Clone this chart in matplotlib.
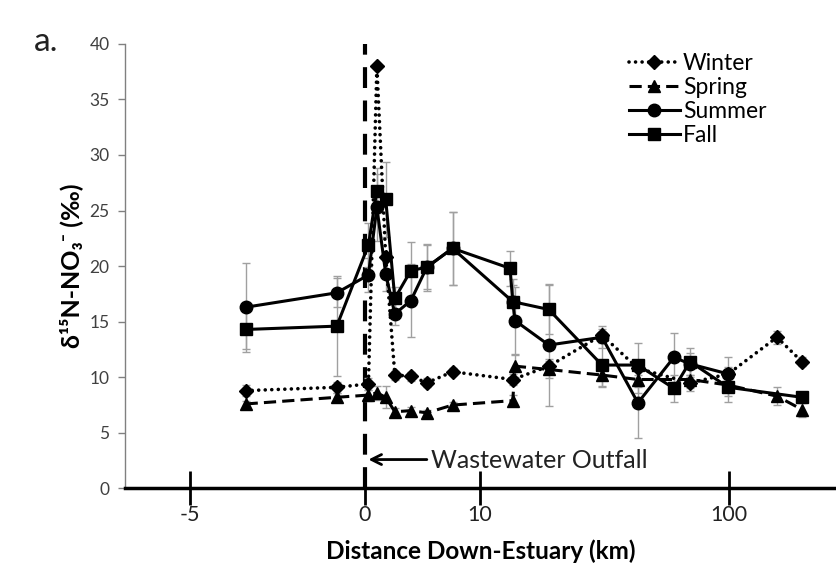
import numpy as np
import matplotlib
matplotlib.use("Agg")
import matplotlib.pyplot as plt

plt.rcParams['font.family'] = ['Lato', 'DejaVu Sans']

# distance down-estuary (km) and d15N-NO3 values
winter_x = [-3.4, -0.8, 0.01, 0.11, 0.33, 0.68, 1.6, 2.9, 5.8, 16.5, 25.5, 42.4, 56.2, 79.7, 99.5, 128, 144]
winter_y = [8.8, 9.1, 9.4, 38.0, 20.8, 10.2, 10.1, 9.5, 10.5, 9.8, 11.0, 13.8, 10.8, 9.5, 10.3, 13.6, 11.4]
winter_err = [0.5, 0.5, 0.5, 0, 0, 0.4, 0.4, 0.4, 0.3, 0.5, 0.6, 0.5, 0.6, 0.5, 0.6, 0.6, 0.4]

spring_x = [-3.4, -0.8, 0.01, 0.11, 0.33, 0.68, 1.6, 2.9, 5.8, 16.5, 17.0, 25.5, 42.4, 56.2, 79.7, 99.5, 128, 144]
spring_y = [7.6, 8.2, 8.4, 8.6, 8.2, 6.9, 7.0, 6.8, 7.5, 7.9, 11.0, 10.7, 10.2, 9.8, 9.8, 9.3, 8.3, 7.1]
spring_err = [0.3, 0.4, 0.5, 0.6, 1.0, 0.3, 0.3, 0.3, 0.3, 0.5, 1.0, 0.8, 1.0, 1.2, 1.0, 1.0, 0.8, 0.7]

summer_x = [-3.4, -0.8, 0.01, 0.11, 0.33, 0.68, 1.6, 2.9, 5.8, 16.5, 17.0, 25.5, 42.4, 56.2, 72, 79.7, 99.5]
summer_y = [16.3, 17.6, 19.2, 25.3, 19.3, 15.7, 16.9, 19.9, 21.6, 16.8, 15.1, 12.9, 13.6, 7.7, 11.8, 11.2, 10.3]
summer_err = [4.0, 1.3, 1.5, 3.0, 1.5, 1.0, 3.3, 2.0, 3.3, 1.5, 3.0, 5.5, 1.0, 3.2, 2.2, 1.0, 1.5]

fall_x = [-3.4, -0.8, 0.01, 0.11, 0.33, 0.68, 1.6, 2.9, 5.8, 15.9, 16.5, 25.5, 42.4, 56.2, 72, 79.7, 99.5, 144]
fall_y = [14.3, 14.6, 21.9, 26.8, 26.0, 17.1, 19.6, 19.9, 21.6, 19.8, 16.8, 16.1, 11.1, 11.1, 9.0, 11.4, 9.1, 8.2]
fall_err = [1.8, 4.5, 2.0, 2.0, 3.4, 1.0, 2.6, 2.1, 3.3, 1.6, 2.0, 2.2, 2.0, 2.0, 1.2, 1.2, 1.3, 0.5]

xticks = [-5, 0, 10, 100]
yticks = [0, 5, 10, 15, 20, 25, 30, 35, 40]


# linear upstream of the outfall, square-root stretched downstream
def fwd(x):
    x = np.asarray(x, dtype=float)
    return np.where(x >= 0, np.sqrt(np.abs(x)), 0.962 * x)


def inv(u):
    u = np.asarray(u, dtype=float)
    return np.where(u >= 0, u ** 2, u / 0.962)


fig = plt.figure(figsize=(8.37, 5.76), dpi=100)
ax = fig.add_axes([0.149, 0.152, 0.851, 0.772])
ax.set_xscale('function', functions=(fwd, inv))
ax.set_xlim(-6.85, 168)
ax.set_ylim(0, 40)

series = [
    ("Winter", winter_x, winter_y, winter_err, 'D', (0, (0.01, 1.8)), 7),
    ("Spring", spring_x, spring_y, spring_err, '^', (0, (4, 2)), 8),
    ("Summer", summer_x, summer_y, summer_err, 'o', '-', 9),
    ("Fall", fall_x, fall_y, fall_err, 's', '-', 8.5),
]

for name, x, y, e, m, ls, ms in series:
    ax.errorbar(x, y, yerr=e, fmt='none', ecolor='#a0a0a0', elinewidth=1,
                capsize=3, capthick=1, zorder=2)
for name, x, y, e, m, ls, ms in series:
    ax.plot(x, y, linestyle=ls, marker=m, color='black',
            lw=2.6 if name == "Winter" else 2.2,
            markersize=ms, label=name, zorder=3,
            dash_capstyle='round' if name == "Winter" else 'butt')

ax.axvline(0, color='black', lw=3, linestyle=(0, (5, 3)), zorder=1)

ax.annotate("", xy=(0.01, 2.6), xytext=(2.9, 2.6),
            arrowprops=dict(arrowstyle='->', color='black', lw=2,
                            mutation_scale=18, shrinkA=0, shrinkB=0))
ax.text(3.3, 2.5, "Wastewater Outfall", fontsize=18, color='#222222',
        va='center', ha='left')

for s in ['top', 'right']:
    ax.spines[s].set_visible(False)
ax.spines['left'].set_color('#808080')
ax.spines['left'].set_linewidth(1)
ax.spines['bottom'].set_linewidth(2.5)
ax.spines['bottom'].set_color('black')

ax.set_yticks(yticks)
ax.tick_params(axis='y', direction='out', length=5, width=1, color='#808080',
               labelsize=12.5, labelcolor='#404040', pad=6)
ax.set_xticks(xticks)
ax.set_xticklabels([str(t) for t in xticks])
ax.tick_params(axis='x', direction='inout', length=24, width=2, color='black',
               labelsize=15.5, labelcolor='#222222', pad=0)
ax.xaxis.set_minor_locator(matplotlib.ticker.NullLocator())

ax.set_xlabel("Distance Down-Estuary (km)", fontsize=17.5, fontweight='bold',
              labelpad=10)
ax.set_ylabel("δ¹⁵N-NO₃⁻ (‰)", fontsize=18, fontweight='bold')
ax.yaxis.set_label_coords(-0.058, 0.5)

fig.text(0.040, 0.912, "a.", fontsize=24, color='#222222')

leg = ax.legend(loc='upper right', bbox_to_anchor=(0.93, 1.025), frameon=False,
                fontsize=16.5, handlelength=2.2, handletextpad=0.15,
                labelspacing=0.12)

fig.savefig("out.png", dpi=100)
